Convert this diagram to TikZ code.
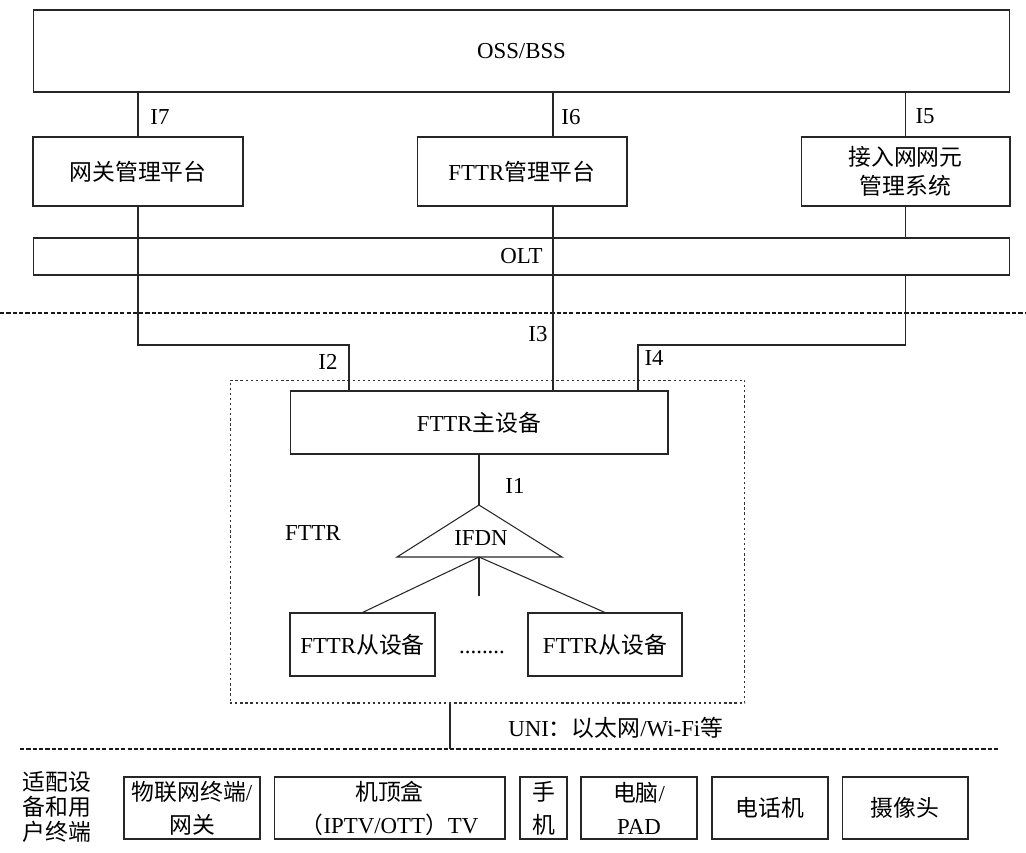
\documentclass[tikz,border=0pt]{standalone}
\usepackage{fontspec}
\setmainfont{Liberation Serif}
\newfontfamily\zhfont{Noto Sans CJK SC}
\newcommand{\zh}[1]{{\zhfont #1}}
\usepackage{tikz}

\begin{document}
\begin{tikzpicture}[
    x=0.02cm, y=-0.02cm,
    unit/.style={rectangle, draw=black!85, line width=0.6pt, inner sep=0pt,
    align=center, font=\fontsize{13}{18.7}\selectfont},
    group/.style={rectangle, draw=black!80, line width=0.6pt,
    dash pattern=on 1.3pt off 1.6pt, inner sep=0pt},
    link/.style={draw=black!85, line width=0.6pt},
    sep/.style={draw=black!90, line width=1.1pt, dash pattern=on 2.4pt off 1.2pt},
    tag/.style={inner sep=0pt, font=\fontsize{13}{15}\selectfont}
]
\useasboundingbox (0,0) rectangle (1026,852);
\node[unit, minimum width=19.54cm, minimum height=1.64cm] (oss) at (521.5,51) {OSS/BSS};
\node[unit, minimum width=4.2cm, minimum height=1.38cm] (gw) at (138,171.5) {\zh{网关管理平台}};
\node[unit, minimum width=4.2cm, minimum height=1.38cm] (fmp) at (522,171.5) {FTTR\zh{管理平台}};
\node[unit, minimum width=4.18cm, minimum height=1.38cm,
    font=\fontsize{13}{16.5}\selectfont] (anm) at (905.5,171.5) {\zh{接入网网元}\\\zh{管理系统}};
\node[unit, minimum width=19.54cm, minimum height=0.74cm] (olt) at (521.5,256.5) {OLT};
\draw[link] (gw.north) -- (gw.north |- oss.south);
\draw[link] ([xshift=0.62cm]fmp.north) -- ([xshift=0.62cm]fmp.north |- oss.south);
\draw[link] (anm.north) -- (anm.north |- oss.south);
\node[tag] (i7) at (160,117) {I7};
\node[tag] (i6) at (571,117) {I6};
\node[tag] (i5) at (925,116) {I5};
\draw[sep] (0,313) -- (1026,313);
% FTTR part
\node[group, minimum width=10.3cm, minimum height=6.46cm] (fttr) at (487.5,541.5) {};
\node[unit, minimum width=7.56cm, minimum height=1.26cm] (master) at (479,422.5) {FTTR\zh{主设备}};
\node[tag] (fttrtag) at (313,533) {FTTR};
\coordinate (i2bend) at (349,345);
\coordinate (i4bend) at (638,345);
\draw[link] (gw.south) -- (gw.south |- i2bend) -- (i2bend) -- (i2bend |- master.north);
\draw[link] ([xshift=1.48cm]master.north) -- ([xshift=1.48cm]master.north |- fmp.south);
\draw[link] (anm.south) -- (anm.south |- olt.north);
\draw[link] (anm.south |- olt.south) -- (anm.south |- i4bend) -- (i4bend) -- (i4bend |- master.north);
\node[tag] (i2) at (328,362) {I2};
\node[tag] (i3) at (538,334) {I3};
\node[tag] (i4) at (654,358) {I4};
\coordinate (ifdntop) at (479,505);
\coordinate (ifdnbase) at (479,557);
\coordinate (ifdnstub) at (479,596);
\draw[link] (ifdntop) -- (397,557) -- (562,557) -- cycle;
\node[tag] (ifdn) at (481,538) {IFDN};
\draw[link] (master.south) -- (ifdntop);
\node[tag] (i1) at (515,486) {I1};
\node[unit, minimum width=2.9cm, minimum height=1.26cm] (slave1) at (362.5,644.5) {FTTR\zh{从设备}};
\node[unit, minimum width=3.08cm, minimum height=1.26cm] (slave2) at (605,644.5) {FTTR\zh{从设备}};
\draw[link] (ifdnbase) -- (slave1.north);
\draw[link] (ifdnbase) -- (slave2.north);
\draw[link] (ifdnbase) -- (ifdnstub);
\node[tag] (dots) at (482,652) {........};
% user side
\coordinate (unibus) at (450,749);
\draw[link] (unibus |- fttr.south) -- (unibus);
\node[tag, anchor=west] (uni) at (508,728) {UNI\zh{：以太网}/Wi-Fi\zh{等}};
\draw[sep] (20,749) -- (1000,749);
\node[tag, align=center, font=\fontsize{13}{14.2}\selectfont] (enduser) at (57,807)
    {\zh{适配设}\\\zh{备和用}\\\zh{户终端}};
\node[unit, minimum width=2.72cm, minimum height=1.24cm] (iot) at (192,808) {\zh{物联网终端}/\\\zh{网关}};
\node[unit, minimum width=4.62cm, minimum height=1.24cm] (stb) at (389.5,808)
    {\zh{机顶盒}\\\zh{（}IPTV/OTT\zh{）}TV};
\node[unit, minimum width=0.94cm, minimum height=1.24cm] (phone) at (543.5,808) {\zh{手}\\\zh{机}};
\node[unit, minimum width=2.32cm, minimum height=1.24cm] (pc) at (639,808) {\zh{电脑}/\\PAD};
\node[unit, minimum width=2.32cm, minimum height=1.24cm] (tel) at (770,808) {\zh{电话机}};
\node[unit, minimum width=2.52cm, minimum height=1.24cm] (cam) at (905,808) {\zh{摄像头}};
\end{tikzpicture}
\end{document}
